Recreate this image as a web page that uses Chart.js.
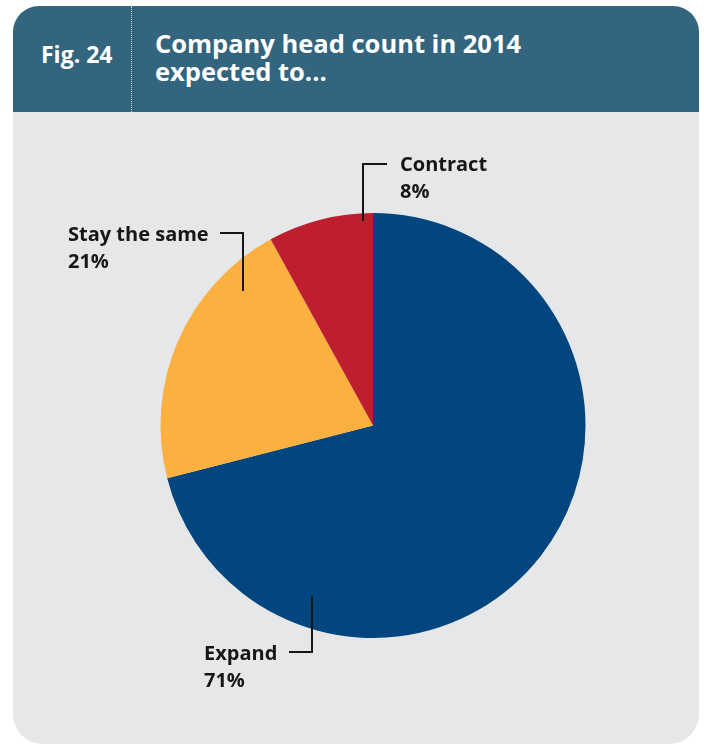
<!DOCTYPE html>
<html>
<head>
<meta charset="utf-8">
<script src="https://cdn.jsdelivr.net/npm/chart.js@4/dist/chart.umd.min.js"></script>
<style>
  html, body { margin: 0; padding: 0; background: #ffffff; }
  body { width: 704px; height: 744px; position: relative; overflow: hidden; font-family: "Open Sans", sans-serif; }
  .panel {
    position: absolute; left: 13px; top: 6px; width: 686px; height: 738px;
    background: #e6e7e8; border-radius: 26px 26px 30px 30px; overflow: hidden;
  }
  .header {
    position: absolute; left: 0; top: 0; width: 686px; height: 106px;
    background: #33657f;
  }
  .fig {
    position: absolute; left: 28px; top: 35px; color: #ffffff;
    font-weight: 700; font-size: 23px; line-height: 26px; white-space: nowrap;
  }
  .sep {
    position: absolute; left: 118px; top: 0; height: 106px; width: 0;
    border-left: 1px dotted #c9d6de;
  }
  .title {
    position: absolute; left: 142px; top: 23px; color: #ffffff;
    font-weight: 700; font-size: 25.5px; line-height: 28px; white-space: nowrap;
  }
  canvas { position: absolute; left: 13px; top: 112px; }
</style>
</head>
<body>
<div class="panel">
  <div class="header">
    <div class="fig">Fig. 24</div>
    <div class="sep"></div>
    <div class="title">Company head count in 2014<br>expected to...</div>
  </div>
</div>
<canvas id="chart" width="686" height="632"></canvas>
<script>
// Expected change in company head count, 2014 (share of respondents, %)
const categories = ["Expand", "Stay the same", "Contract"];
const shares = [71, 21, 8];
const sliceColors = ["#03467f", "#fbb040", "#be1e2e"];

// Leader-line placement for each slice, in pixels from the pie centre:
// tip inside the slice, elbow height, end of the horizontal stub, text anchor.
const leaderLayout = [
  { tip: [-61, 170.5], elbowY: 226.5, endX: -84, textX: -169, textY: 234.5, align: "left" },
  { tip: [-130, -134.5], elbowY: -192.5, endX: -153, textX: -305, textY: -184.5, align: "left" },
  { tip: [-10, -204.5], elbowY: -261.5, endX: 14, textX: 27, textY: -254.5, align: "left" }
];

const leaderLabels = {
  id: "leaderLabels",
  afterDatasetsDraw(chart) {
    const ctx = chart.ctx;
    const meta = chart.getDatasetMeta(0);
    meta.data.forEach((arc, i) => {
      const cx = arc.x, cy = arc.y;
      const L = leaderLayout[i];
      ctx.save();
      ctx.strokeStyle = "#161616";
      ctx.lineWidth = 2;
      ctx.lineCap = "butt";
      ctx.beginPath();
      ctx.moveTo(cx + L.tip[0], cy + L.tip[1]);
      ctx.lineTo(cx + L.tip[0], cy + L.elbowY);
      ctx.lineTo(cx + L.endX, cy + L.elbowY);
      ctx.stroke();
      ctx.fillStyle = "#161616";
      ctx.font = "700 20px 'Open Sans'";
      ctx.textAlign = L.align;
      ctx.textBaseline = "alphabetic";
      ctx.fillText(categories[i], cx + L.textX, cy + L.textY);
      ctx.fillText(shares[i] + "%", cx + L.textX, cy + L.textY + 26.5);
      ctx.restore();
    });
  }
};

new Chart(document.getElementById("chart"), {
  type: "pie",
  data: {
    labels: categories,
    datasets: [{
      data: shares,
      backgroundColor: sliceColors,
      borderWidth: 0,
      hoverOffset: 0
    }]
  },
  options: {
    responsive: false,
    animation: false,
    layout: { padding: { left: 140, right: 106, top: 101, bottom: 106 } },
    plugins: {
      legend: { display: false },
      tooltip: { enabled: false }
    }
  },
  plugins: [leaderLabels]
});
</script>
</body>
</html>
